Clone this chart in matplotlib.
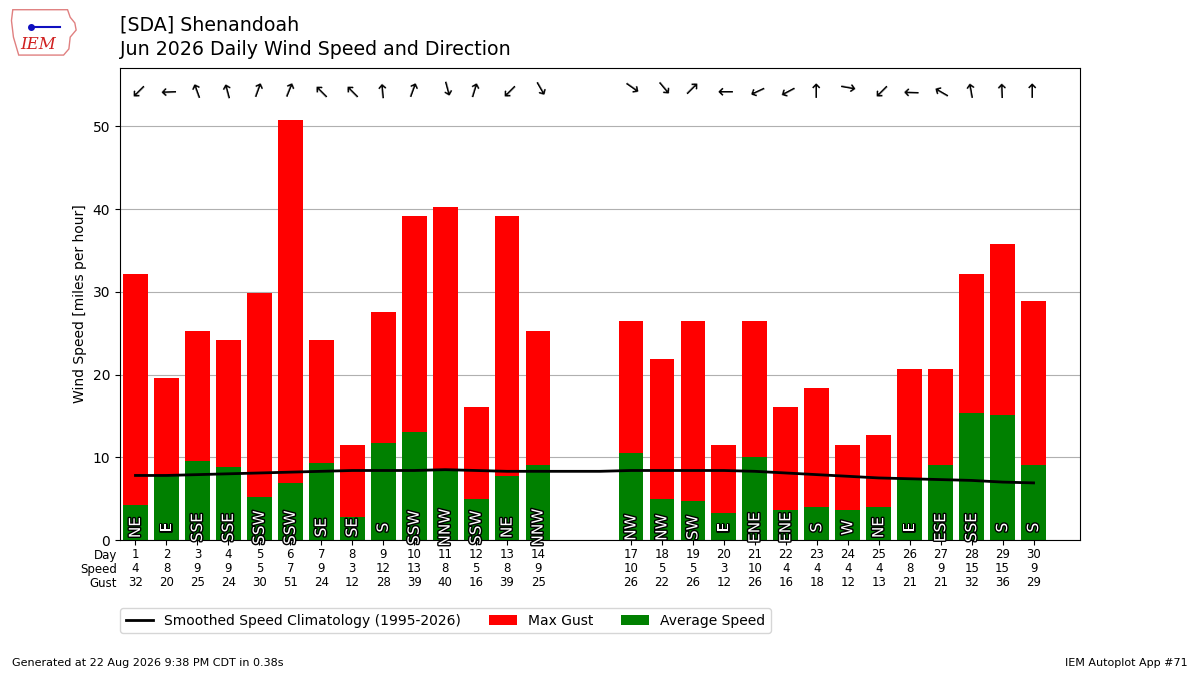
import matplotlib
matplotlib.use("Agg")
import matplotlib.pyplot as plt
import matplotlib.patheffects as pe
from matplotlib.patches import Polygon
import numpy as np

days = list(range(1, 15)) + list(range(17, 31))
dir_text = ["NE", "E", "SSE", "SSE", "SSW", "SSW", "SE", "SE", "S", "SSW", "NNW", "SSW", "NE", "NNW",
            "NW", "NW", "SW", "E", "ENE", "ENE", "S", "W", "NE", "E", "ESE", "SSE", "S", "S"]
dir_deg = [45, 88, 160, 165, 200, 202, 135, 135, 175, 200, 345, 197, 45, 330,
           305, 320, 225, 90, 65, 62, 180, 280, 45, 92, 120, 170, 178, 180]
avg_speed = [4.2, 7.7, 9.6, 8.8, 5.2, 6.9, 9.3, 2.8, 11.7, 13.0, 8.5, 5.0, 7.7, 9.1,
             10.5, 5.0, 4.7, 3.3, 10.0, 3.6, 4.0, 3.6, 4.0, 7.5, 9.1, 15.4, 15.1, 9.1]
max_gust = [32.2, 19.6, 25.3, 24.2, 29.9, 50.7, 24.2, 11.5, 27.6, 39.1, 40.3, 16.1, 39.1, 25.3,
            26.5, 21.9, 26.5, 11.5, 26.5, 16.1, 18.4, 11.5, 12.7, 20.7, 20.7, 32.2, 35.8, 28.9]
table_speed = [4, 8, 9, 9, 5, 7, 9, 3, 12, 13, 8, 5, 8, 9,
               10, 5, 5, 3, 10, 4, 4, 4, 4, 8, 9, 15, 15, 9]
table_gust = [32, 20, 25, 24, 30, 51, 24, 12, 28, 39, 40, 16, 39, 25,
              26, 22, 26, 12, 26, 16, 18, 12, 13, 21, 21, 32, 36, 29]
clim_days = list(range(1, 31))
clim_speed = [7.8, 7.8, 7.9, 8.0, 8.1, 8.2, 8.3, 8.4, 8.4, 8.4, 8.5, 8.4, 8.3, 8.3, 8.3,
              8.3, 8.4, 8.4, 8.4, 8.4, 8.3, 8.1, 7.9, 7.7, 7.5, 7.4, 7.3, 7.2, 7.0, 6.9]

fig = plt.figure(figsize=(12, 6.75), dpi=100)
ax = fig.add_axes([0.1, 0.2, 0.8, 0.7])

ax.bar(days, max_gust, width=0.8, color="r", label="Max Gust", zorder=2)
ax.bar(days, avg_speed, width=0.8, color="g", label="Average Speed", zorder=2)
ax.plot(clim_days, clim_speed, color="k", lw=2, zorder=3,
        label="Smoothed Speed Climatology (1995-2026)")

for d, t, deg in zip(days, dir_text, dir_deg):
    ax.text(d, 1.5, t, rotation=90, ha="center", va="center", color="white", fontsize=11,
            zorder=4, path_effects=[pe.withStroke(linewidth=2, foreground="k")])
    rot = 90 - (deg + 180)
    ax.text(d, 54.5, "\u2192", rotation=rot, rotation_mode="anchor", ha="center", va="center",
            fontsize=14, zorder=4)

ax.set_xlim(0.5, 31.5)
ax.set_ylim(0, 57.1)
ax.set_yticks([0, 10, 20, 30, 40, 50])
ax.yaxis.grid(True, color="#b0b0b0", zorder=0)
ax.set_axisbelow(True)
ax.set_ylabel("Wind Speed [miles per hour]")
ax.set_xticks(days)
ax.set_xticklabels([f"{d}\n{s}\n{g}" for d, s, g in zip(days, table_speed, table_gust)],
                   fontsize=8.5, linespacing=1.1)
ax.tick_params(axis="x", pad=2.5)
ax.text(-0.003, -0.0185, "Day\nSpeed\nGust", transform=ax.transAxes, ha="right", va="top",
        fontsize=8.5, linespacing=1.1)

ax.legend(loc="upper left", bbox_to_anchor=(0.0, -0.144), borderaxespad=0, ncol=3, fontsize=10)

fig.text(0.1, 0.977, "[SDA] Shenandoah\nJun 2026 Daily Wind Speed and Direction",
         ha="left", va="top", fontsize=13.7, linespacing=1.35)
fig.text(0.01, 0.01, "Generated at 22 Aug 2026 9:38 PM CDT in 0.38s", fontsize=8, ha="left", va="bottom")
fig.text(0.99, 0.01, "IEM Autoplot App #71", fontsize=8, ha="right", va="bottom")

# logo (decorative)
lax = fig.add_axes([0.009, 0.917, 0.055, 0.07])
lax.set_xlim(0, 1)
lax.set_ylim(0, 1)
lax.axis("off")
lax.add_patch(Polygon([[0.03, 0.98], [0.86, 0.98], [0.9, 0.82], [0.97, 0.7], [0.99, 0.55],
                       [0.9, 0.4], [0.88, 0.15], [0.8, 0.02], [0.12, 0.02], [0.04, 0.4],
                       [0.01, 0.75]], closed=True, fill=False, edgecolor="#e08080", lw=1,
                      clip_on=False))
lax.text(0.42, 0.25, "IEM", fontsize=12, color="#d02020", style="italic", family="DejaVu Serif",
         ha="center", va="center")
lax.plot([0.3, 0.75], [0.62, 0.62], color="#1010c0", lw=1.5)
lax.plot([0.3], [0.62], "o", color="#1010c0", ms=4)

fig.savefig("out.png", dpi=100)
